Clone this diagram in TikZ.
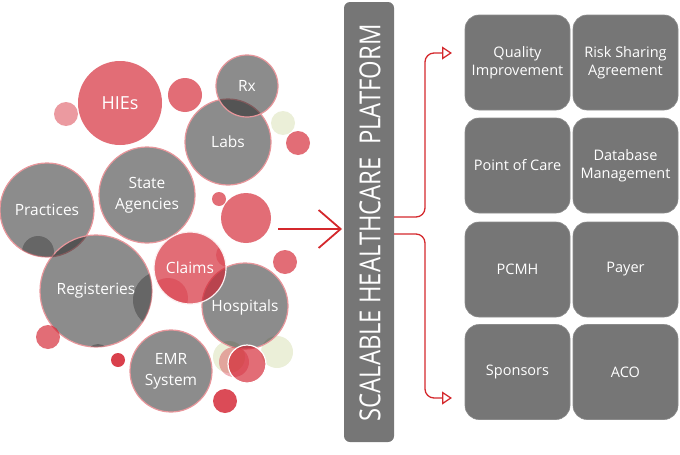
\documentclass[tikz,border=0pt]{standalone}
\usepackage{fontspec}
\setmainfont{Open Sans}
\usetikzlibrary{arrows.meta}
\definecolor{cgray}{RGB}{34,34,34}
\definecolor{cred}{RGB}{210,30,45}
\definecolor{cpink}{RGB}{232,150,155}
\definecolor{cpale}{RGB}{226,232,200}
\definecolor{tilegray}{RGB}{118,118,118}
\definecolor{linered}{RGB}{212,40,44}
\tikzset{
  graycirc/.style={circle, inner sep=0pt, fill=cgray, fill opacity=0.52, text opacity=1,
    draw=cpink, draw opacity=1, line width=1.2pt, text=white, align=center,
    font=\fontsize{15.5}{21}\selectfont},
  redcirc/.style={circle, inner sep=0pt, fill=cred, fill opacity=0.65, text opacity=1,
    text=white, align=center, font=\fontsize{15.5}{21}\selectfont},
  palecirc/.style={circle, inner sep=0pt, fill=cpale, fill opacity=0.7},
  darkspot/.style={fill=cgray, fill opacity=0.35},
  tile/.style={rectangle, rounded corners=14pt, fill=tilegray, draw=tilegray!85!white,
    line width=0.6pt, minimum width=105pt, minimum height=95pt, text=white,
    align=center, font=\fontsize{14.5}{18.5}\selectfont, inner sep=0pt},
  bar/.style={rectangle, rounded corners=6pt, fill=tilegray, minimum width=50pt,
    minimum height=440pt, inner sep=0pt},
  mainarrow/.style={draw=linered, line width=1.8pt,
    -{Straight Barb[length=22pt, width=38pt, line width=1.8pt]}},
  branch/.style={draw=linered, line width=1.3pt, rounded corners=9pt,
    -{Triangle[length=10pt, width=13pt, line width=1.3pt, fill=white]}}
}
\begin{document}
\begin{tikzpicture}[x=1pt, y=-1pt]
\useasboundingbox (0,0) rectangle (680,455);

% pale background circles
\node[palecirc, minimum size=24pt] (p1) at (283,123) {};
\node[palecirc, minimum size=32pt] (p2) at (229,357) {};
\node[palecirc, minimum size=32pt] (p3) at (277,352) {};

% gray circles
\node[graycirc, minimum size=94pt] (practices) at (47,210) {Practices};
\node[graycirc, minimum size=96pt] (state) at (147,195) {State\\Agencies};
\node[graycirc, minimum size=112pt] (reg) at (96,291) {Registeries};
\node[graycirc, minimum size=86pt] (labs) at (228,142) {Labs};
\node[graycirc, minimum size=62pt] (rx) at (247,86) {Rx};
\node[graycirc, minimum size=86pt, text depth=-4pt] (hosp) at (245,306) {Hospitals};
\node[graycirc, minimum size=82pt] (emr) at (171,371) {EMR\\System};

% hidden overlap spots
\begin{scope}
  \clip (practices.center) circle (47pt);
  \fill[darkspot] (38,252) circle (16pt);
\end{scope}
\begin{scope}
  \clip (reg.center) circle (56pt);
  \fill[darkspot] (162,300) circle (29pt);
  \fill[darkspot] (98,356) circle (12pt);
\end{scope}

% red circles
\node[redcirc, minimum size=84pt] (hies) at (120,103) {\fontsize{18}{22}\selectfont HIEs};
\node[redcirc, fill opacity=0.45, minimum size=24pt] (r1) at (66,114) {};
\node[redcirc, minimum size=34pt] (r2) at (185,95) {};
\node[redcirc, minimum size=24pt] (r3) at (298,143) {};
\node[redcirc, minimum size=14pt] (r4) at (219,199) {};
\node[redcirc, minimum size=50pt] (r5) at (246,218) {};
\node[redcirc, minimum size=24pt] (r6) at (285,262) {};
\node[redcirc, minimum size=24pt] (r7) at (48,337) {};
\node[redcirc, fill opacity=0.85, minimum size=14pt] (r8) at (118,360) {};
\node[redcirc, fill opacity=0.8, minimum size=24pt] (r9) at (225,401) {};
\node[redcirc, fill opacity=0.35, minimum size=30pt] (r10) at (234,362) {};
\node[redcirc, draw=white, draw opacity=1, line width=1.2pt, minimum size=38pt] (r11) at (247,364) {};
\begin{scope}
  \clip (190,268) circle (36pt);
  \fill[cred, fill opacity=0.3] (228,255) circle (12pt);
  \fill[cred, fill opacity=0.3] (168,298) circle (20pt);
\end{scope}
\node[redcirc, draw=white!85!cpink, draw opacity=1, line width=1.2pt, minimum size=72pt] (claims) at (190,268) {Claims};

% platform bar
\node[bar] (platform) at (369,222) {};
\node[rotate=90, text=white, inner sep=0pt] (ptext) at (370,223)
  {\resizebox{397pt}{21pt}{\fontsize{30}{30}\selectfont SCALABLE HEALTHCARE\ \ PLATFORM}};

% main arrow
\coordinate (astart) at (278,229);
\coordinate (aend) at (342,229);
\draw[mainarrow] (astart) -- (aend);

% tiles
\node[tile] (qi) at (517.5,62.5) {Quality\\Improvement};
\node[tile] (rsa) at (625.5,62.5) {Risk Sharing\\Agreement};
\node[tile] (poc) at (517.5,165.5) {Point of Care};
\node[tile] (dbm) at (625.5,165.5) {Database\\Management};
\node[tile] (pcmh) at (517.5,269.5) {PCMH};
\node[tile] (payer) at (625.5,269.5) {Payer};
\node[tile] (spons) at (517.5,372) {Sponsors};
\node[tile] (aco) at (625.5,372) {ACO};

% branch arrows
\coordinate (b1) at (394,217);
\coordinate (b2) at (394,234);
\coordinate (t1) at (452,53);
\coordinate (t2) at (452,398);
\draw[branch] (b1) -- (425,217) -- (425,53) -- (t1);
\draw[branch] (b2) -- (425,234) -- (425,398) -- (t2);
\end{tikzpicture}
\end{document}
